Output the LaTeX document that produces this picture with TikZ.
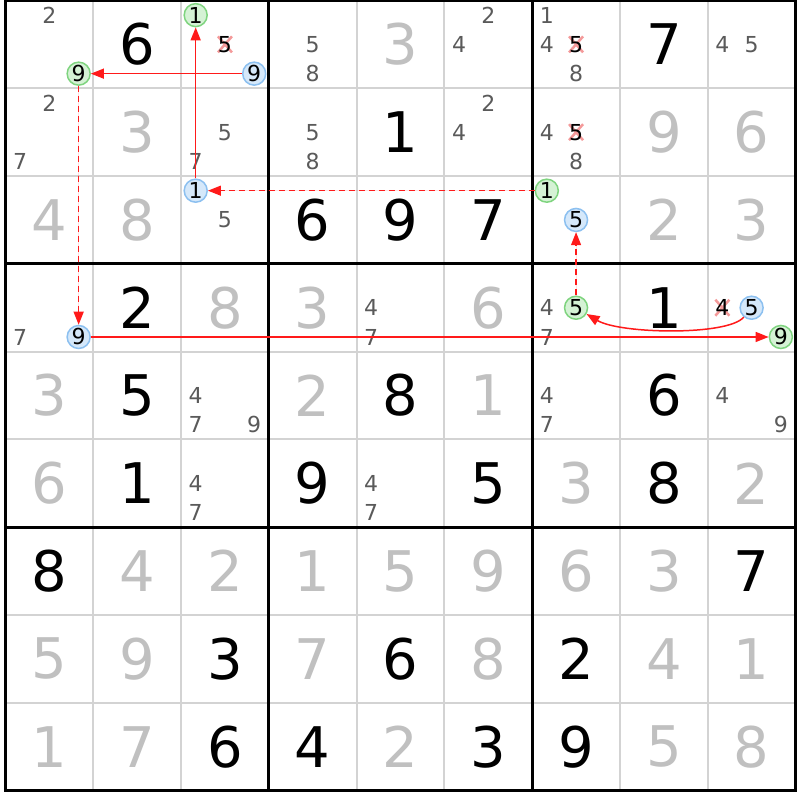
\documentclass[tikz,border=0pt]{standalone}
\usepackage{fontspec}
\setmainfont{DejaVu Sans}
\usetikzlibrary{arrows.meta}
\definecolor{gridgray}{HTML}{D3D3D3}
\definecolor{solvedgray}{HTML}{C0C0C0}
\definecolor{candgray}{HTML}{5A5A5A}
\definecolor{gfill}{HTML}{D5F2D5}
\definecolor{gdraw}{HTML}{7FD47F}
\definecolor{bfill}{HTML}{D5E8FA}
\definecolor{bdraw}{HTML}{8CC0F0}
\definecolor{xpink}{HTML}{F49A9A}
\definecolor{linkred}{HTML}{FF1A1A}
\def\S{87.7778}
\newcommand\cellpos[2]{\pgfmathsetmacro\cx{5.5+(#2-0.5)*\S}\pgfmathsetmacro\cy{0.5+(#1-0.5)*\S}}
\newcommand\candpos[3]{\pgfmathsetmacro\cx{5.5+(#2-1)*\S+(mod(#3-1,3)+0.5)*\S/3}\pgfmathsetmacro\cy{0.5+(#1-1)*\S+(floor((#3-1)/3)+0.5)*\S/3}}
\newcommand\bigdigit[4]{\cellpos{#1}{#2}\node[#4] (v#1#2) at (\cx,\cy) {#3};}
\newcommand\smallcand[3]{\candpos{#1}{#2}{#3}\node[cand] (k#1#2#3) at (\cx,\cy) {#3};}
\newcommand\crosscand[3]{\candpos{#1}{#2}{#3}%
  \draw[xline] ({\cx-7},{\cy-8}) -- ({\cx+7},{\cy+8});
  \draw[xline] ({\cx+7},{\cy-8}) -- ({\cx-7},{\cy+8});
  \node[xcross] (k#1#2#3) at (\cx,\cy) {#3};}
\newcommand\circcand[4]{\candpos{#1}{#2}{#3}\node[#4] (k#1#2#3) at (\cx,\cy) {#3};}
\newcommand\candfont{\fontsize{22pt}{22pt}\selectfont}
\newcommand\givenfont{\fontsize{56pt}{56pt}\selectfont}
\begin{document}
\begin{tikzpicture}[x=1pt,y=-1pt,
 given/.style={inner sep=0pt, font=\givenfont, text=black},
 solved/.style={given, text=solvedgray},
 cand/.style={inner sep=0pt, font=\candfont, text=candgray},
 gcirc/.style={circle, inner sep=0pt, minimum size=23pt, line width=1.5pt, draw=gdraw, fill=gfill, font=\candfont, text=black},
 bcirc/.style={gcirc, draw=bdraw, fill=bfill},
 xcross/.style={cand, text=black},
 xline/.style={draw=xpink, line width=2.5pt},
 link/.style={draw=linkred, fill=linkred, line width=1.5pt, -{Triangle[length=13pt,width=10pt]}},
 weak/.style={link, line width=1.3pt, dash pattern=on 6pt off 4pt}
]
\useasboundingbox (0,0) rectangle (800,800);
\fill[white] (0,0) rectangle (800,800);
% grid
\foreach \i in {0,...,9} {
  \draw[gridgray, line width=2pt] ({5.5+\i*\S},0.5) -- ({5.5+\i*\S},790.5);
  \draw[gridgray, line width=2pt] (5.5,{0.5+\i*\S}) -- (795.5,{0.5+\i*\S});
}
\foreach \i in {0,3,6,9} {
  \draw[black, line width=3pt, line cap=rect] ({5.5+\i*\S},0.5) -- ({5.5+\i*\S},790.5);
  \draw[black, line width=3pt, line cap=rect] (5.5,{0.5+\i*\S}) -- (795.5,{0.5+\i*\S});
}
% givens
\foreach \r/\c/\d in {1/2/6,1/8/7,2/5/1,3/4/6,3/5/9,3/6/7,4/2/2,4/8/1,5/2/5,5/5/8,5/8/6,
  6/2/1,6/4/9,6/6/5,6/8/8,7/1/8,7/9/7,8/3/3,8/5/6,8/7/2,9/3/6,9/4/4,9/6/3,9/7/9}
  {\bigdigit{\r}{\c}{\d}{given}}
% solved
\foreach \r/\c/\d in {1/5/3,2/2/3,2/8/9,2/9/6,3/1/4,3/2/8,3/8/2,3/9/3,4/3/8,4/4/3,4/6/6,
  5/1/3,5/4/2,5/6/1,6/1/6,6/7/3,6/9/2,
  7/2/4,7/3/2,7/4/1,7/5/5,7/6/9,7/7/6,7/8/3,
  8/1/5,8/2/9,8/4/7,8/6/8,8/8/4,8/9/1,
  9/1/1,9/2/7,9/5/2,9/8/5,9/9/8}
  {\bigdigit{\r}{\c}{\d}{solved}}
% candidates
\foreach \r/\c/\d in {1/1/2,1/4/5,1/4/8,1/6/2,1/6/4,1/7/1,1/7/4,1/7/8,1/9/4,1/9/5,
  2/1/2,2/1/7,2/3/5,2/3/7,2/4/5,2/4/8,2/6/2,2/6/4,2/7/4,2/7/8,
  3/3/5,4/1/7,4/5/4,4/5/7,4/7/4,4/7/7,
  5/3/4,5/3/7,5/3/9,5/7/4,5/7/7,5/9/4,5/9/9,
  6/3/4,6/3/7,6/5/4,6/5/7}
  {\smallcand{\r}{\c}{\d}}
% eliminated candidates
\crosscand{1}{3}{5}
\crosscand{1}{7}{5}
\crosscand{2}{7}{5}
\crosscand{4}{9}{4}
% highlighted candidates
\circcand{1}{1}{9}{gcirc}
\circcand{1}{3}{1}{gcirc}
\circcand{1}{3}{9}{bcirc}
\circcand{3}{3}{1}{bcirc}
\circcand{3}{7}{1}{gcirc}
\circcand{3}{7}{5}{bcirc}
\circcand{4}{1}{9}{bcirc}
\circcand{4}{7}{5}{gcirc}
\circcand{4}{9}{5}{bcirc}
\circcand{4}{9}{9}{gcirc}
% links
\draw[link] (k139) -- (k119);
\draw[link] (k331) -- (k131);
\draw[weak] (k371) -- (k331);
\draw[weak] (k119) -- (k419);
\draw[link] (k419) -- (k499);
\draw[weak] (k475) -- (k375);
\path[link, fill=none] (k495) .. controls (728,336) and (620,334) .. (k475);
\end{tikzpicture}
\end{document}
